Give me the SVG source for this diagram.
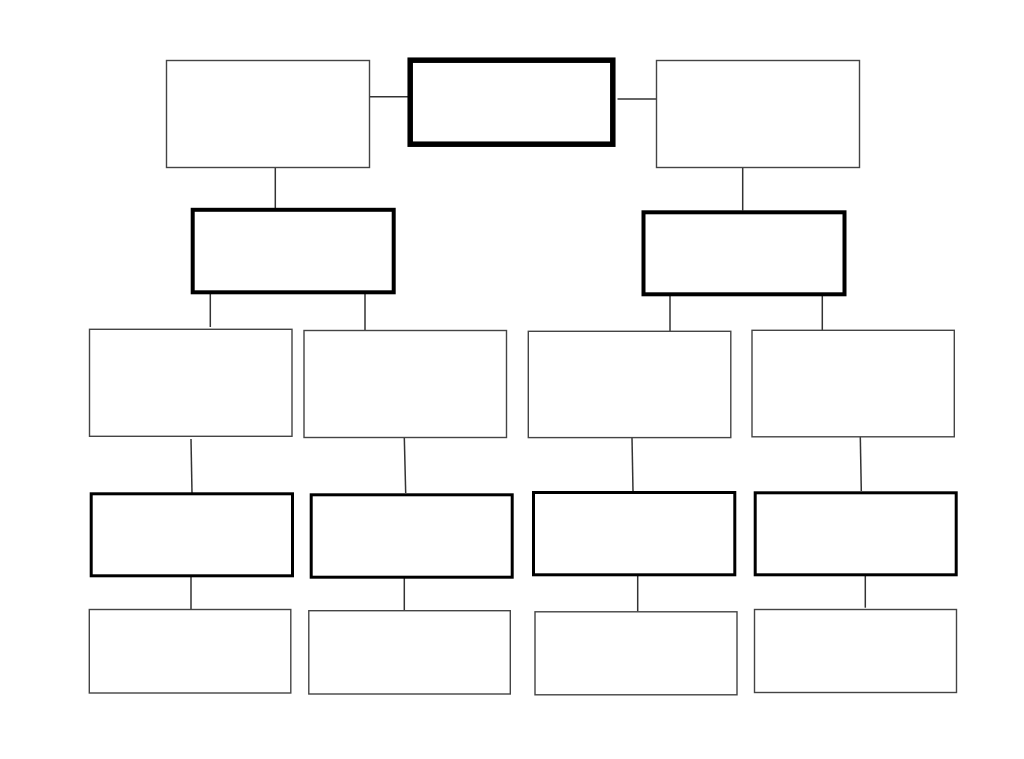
<svg xmlns="http://www.w3.org/2000/svg" width="1024" height="759" viewBox="0 0 1024 759">
<style>
.thin{fill:#fff;stroke:#444;stroke-width:1.4}
.b5{fill:#fff;stroke:#000;stroke-width:5.5}
.b4{fill:#fff;stroke:#000;stroke-width:4}
.b3{fill:#fff;stroke:#000;stroke-width:3}
.c{stroke:#333;stroke-width:1.5;fill:none}
</style>
<rect width="1024" height="759" fill="#fff"/>
<g id="connectors">
<line class="c" x1="369.5" y1="96.8" x2="408" y2="96.8"/>
<line class="c" x1="617.5" y1="99" x2="656.5" y2="99"/>
<line class="c" x1="275.3" y1="167.5" x2="275.3" y2="208"/>
<line class="c" x1="742.7" y1="167.5" x2="742.7" y2="210.5"/>
<line class="c" x1="210.3" y1="290" x2="210.3" y2="327"/>
<line class="c" x1="365" y1="294" x2="365" y2="332"/>
<line class="c" x1="670" y1="296" x2="670" y2="332.5"/>
<line class="c" x1="822.3" y1="296" x2="822.3" y2="330.5"/>
<line class="c" x1="191" y1="439" x2="192" y2="493"/>
<line class="c" x1="404.3" y1="437.5" x2="405.7" y2="493"/>
<line class="c" x1="632" y1="437.5" x2="633" y2="491"/>
<line class="c" x1="860.3" y1="437" x2="861.3" y2="491"/>
<line class="c" x1="191" y1="577" x2="191" y2="609.5"/>
<line class="c" x1="404.3" y1="575" x2="404.3" y2="610.5"/>
<line class="c" x1="637.7" y1="576" x2="637.7" y2="611.5"/>
<line class="c" x1="865.3" y1="574" x2="865.3" y2="607.7"/>
</g>
<g id="n_top_left"><rect class="thin" x="166.5" y="60.5" width="203" height="107"/></g>
<g id="n_center"><rect class="b5" x="410.2" y="60.2" width="202.6" height="84"/></g>
<g id="n_top_right"><rect class="thin" x="656.5" y="60.5" width="203" height="107"/></g>
<g id="n_l2_left"><rect class="b4" x="192.7" y="209.8" width="201" height="82.5"/></g>
<g id="n_l2_right"><rect class="b4" x="643.5" y="212.3" width="201" height="82"/></g>
<g id="n_l3_1"><rect class="thin" x="89.5" y="329.3" width="202.5" height="107"/></g>
<g id="n_l3_2"><rect class="thin" x="304" y="330.5" width="202.5" height="107"/></g>
<g id="n_l3_3"><rect class="thin" x="528.3" y="331.3" width="202.5" height="106.3"/></g>
<g id="n_l3_4"><rect class="thin" x="752" y="330.3" width="202.3" height="106.5"/></g>
<g id="n_l4_1"><rect class="b3" x="91.2" y="493.8" width="201.3" height="82"/></g>
<g id="n_l4_2"><rect class="b3" x="311.2" y="494.8" width="201" height="82.4"/></g>
<g id="n_l4_3"><rect class="b3" x="533.5" y="492.5" width="201.3" height="82.3"/></g>
<g id="n_l4_4"><rect class="b3" x="755.2" y="492.8" width="201" height="82"/></g>
<g id="n_l5_1"><rect class="thin" x="89.3" y="609.5" width="201.5" height="83.5"/></g>
<g id="n_l5_2"><rect class="thin" x="308.8" y="610.7" width="201.5" height="83.3"/></g>
<g id="n_l5_3"><rect class="thin" x="535" y="611.8" width="202" height="83"/></g>
<g id="n_l5_4"><rect class="thin" x="754.5" y="609.5" width="202" height="83"/></g>
</svg>
